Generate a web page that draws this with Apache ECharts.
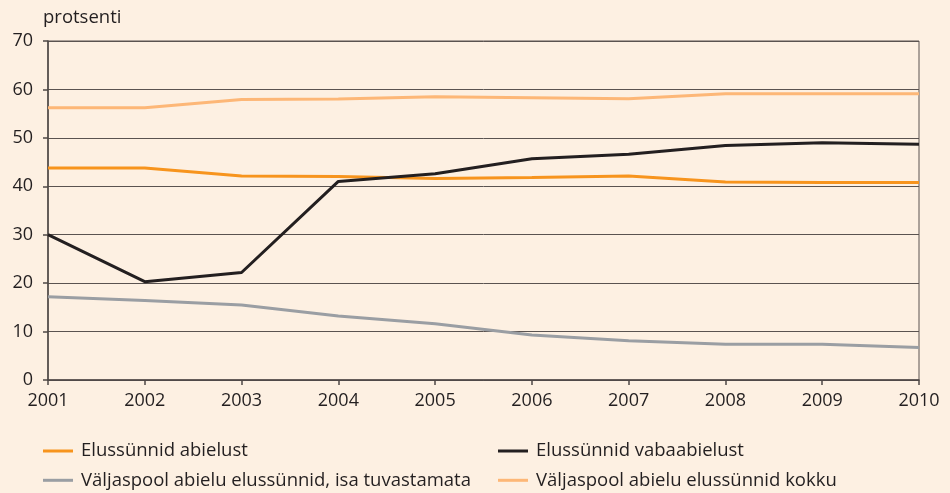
<!DOCTYPE html>
<html>
<head>
<meta charset="utf-8">
<script src="https://cdn.jsdelivr.net/npm/echarts@6/dist/echarts.min.js"></script>
<style>
html,body{margin:0;padding:0;background:#fdf0e2;}
#c{width:950px;height:493px;}
</style>
</head>
<body>
<div id="c"></div>
<script>
var years = ['2001','2002','2003','2004','2005','2006','2007','2008','2009','2010'];
var abielust = [43.8, 43.8, 42.1, 42.0, 41.6, 41.8, 42.1, 40.9, 40.8, 40.8];
var vabaabielust = [30.0, 20.3, 22.2, 41.0, 42.6, 45.7, 46.6, 48.4, 49.0, 48.7];
var isaTuvastamata = [17.2, 16.4, 15.5, 13.2, 11.6, 9.3, 8.1, 7.4, 7.4, 6.7];
var kokku = [56.2, 56.2, 57.9, 58.0, 58.5, 58.3, 58.1, 59.1, 59.1, 59.1];
var names = ['Elussünnid abielust', 'Elussünnid vabaabielust', 'Väljaspool abielu elussünnid, isa tuvastamata', 'Väljaspool abielu elussünnid kokku'];
var colors = ['#f7941d', '#231f20', '#9a9ea3', '#fdb777'];
var yTitle = 'protsenti';

var font = 'Open Sans';
var textCol = '#231f20';
function mk(name, data, color) {
  return {
    name: name, type: 'line', data: data, showSymbol: false, symbol: 'none',
    lineStyle: { color: color, width: 3 }, itemStyle: { color: color },
    animation: false
  };
}
var legendCommon = {
  orient: 'vertical', top: 441, icon: 'rect', itemWidth: 30, itemHeight: 3,
  itemGap: 9.3, padding: 0,
  textStyle: { fontFamily: font, fontSize: 18.5, color: textCol, lineHeight: 20, padding: [0, 0, 0, 3] }
};
var chart = echarts.init(document.getElementById('c'), null, { renderer: 'canvas' });
chart.setOption({
  backgroundColor: '#fdf0e2',
  animation: false,
  title: {
    text: yTitle, left: 38, top: 3,
    textStyle: { fontFamily: font, fontSize: 18.5, fontWeight: 'normal', color: textCol }
  },
  legend: [
    Object.assign({ left: 43, data: [names[0], names[2]] }, legendCommon),
    Object.assign({ left: 498, data: [names[1], names[3]] }, legendCommon)
  ],
  grid: {
    left: 48, right: 31, top: 41, bottom: 113, show: true,
    borderColor: '#5a5350', borderWidth: 1, backgroundColor: 'transparent'
  },
  xAxis: {
    type: 'category', data: years, boundaryGap: false,
    axisLine: { lineStyle: { color: '#4d4745', width: 1.5 } },
    axisTick: { show: true, length: 5, lineStyle: { color: '#4d4745', width: 1.5 } },
    axisLabel: { fontFamily: font, fontSize: 18, color: textCol, margin: 12 },
    splitLine: { show: false }
  },
  yAxis: {
    type: 'value', min: 0, max: 70, interval: 10,
    axisLine: { show: true, lineStyle: { color: '#4d4745', width: 1.5 } },
    axisTick: { show: true, length: 5, lineStyle: { color: '#4d4745', width: 1.5 } },
    axisLabel: { fontFamily: font, fontSize: 18, color: textCol, margin: 15 },
    splitLine: { show: true, lineStyle: { color: '#5a5350', width: 1 } }
  },
  series: [
    mk(names[0], abielust, colors[0]),
    mk(names[1], vabaabielust, colors[1]),
    mk(names[2], isaTuvastamata, colors[2]),
    mk(names[3], kokku, colors[3])
  ]
});
</script>
</body>
</html>
